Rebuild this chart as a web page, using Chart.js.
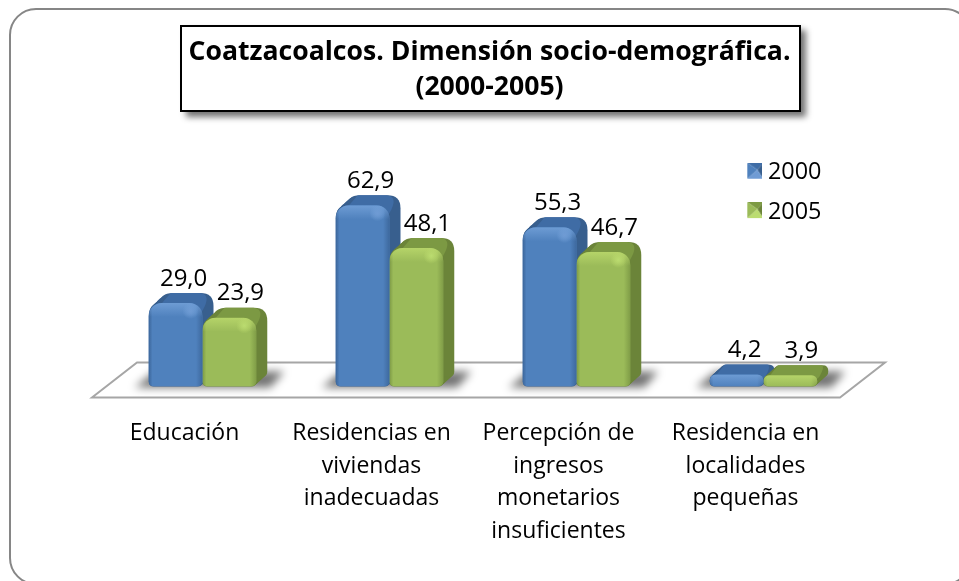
<!DOCTYPE html>
<html><head><meta charset="utf-8">
<style>html,body{margin:0;padding:0;background:#fff}#wrap{width:959px;height:581px}</style>
<script src="https://cdn.jsdelivr.net/npm/chart.js@4"></script>
</head><body><div id="wrap"><canvas id="c" width="959" height="581"></canvas></div>
<script>
const categories = [["Educación"],["Residencias en","viviendas","inadecuadas"],["Percepción de","ingresos","monetarios","insuficientes"],["Residencia en","localidades","pequeñas"]];
const values2000 = [29.0, 62.9, 55.3, 4.2];
const values2005 = [23.9, 48.1, 46.7, 3.9];
const seriesNames = ["2000", "2005"];
const titleLines = ["Coatzacoalcos. Dimensión socio-demográfica.", "(2000-2005)"];

const FONT = '"Open Sans", sans-serif';
const DEPTH_X = 11, DEPTH_Y = 10, R = 13;
const palette = [
  {front:'#4f81bd', light:'#6f9bd4', side:'#385f8e', top:'#3f6da6', rgb:'120,165,220', dark:'40,75,120'},
  {front:'#9bbb59', light:'#bbdc70', side:'#6b8439', top:'#7d9a43', rgb:'190,220,110', dark:'95,120,50'}
];
function rr(ctx,x0,y0,x1,y1,rt,rb){
  ctx.moveTo(x0,y0+rt);ctx.quadraticCurveTo(x0,y0,x0+rt,y0);
  ctx.lineTo(x1-rt,y0);ctx.quadraticCurveTo(x1,y0,x1,y0+rt);
  ctx.lineTo(x1,y1-rb);ctx.quadraticCurveTo(x1,y1,x1-rb,y1);
  ctx.lineTo(x0+rb,y1);ctx.quadraticCurveTo(x0,y1,x0,y1-rb);ctx.closePath();
}
function legendIcon(p){
  const s=16,k=document.createElement('canvas');k.width=28;k.height=20;const g=k.getContext('2d');
  g.translate(13,0);
  const tri=(a,b,c,col)=>{g.fillStyle=col;g.beginPath();g.moveTo(...a);g.lineTo(...b);g.lineTo(...c);g.closePath();g.fill();};
  const m=[10,7];
  tri([0,0],[s,0],m,p.top);tri([s,0],[s,s],m,p.side);tri([0,s],[s,s],m,p.light);tri([0,0],[0,s],m,p.front);
  return k;
}
function drawHulls(chart,d){
  const c=chart.ctx,p=palette[d];
  chart.getDatasetMeta(d).data.forEach(el=>{
    const x0=el.x-el.width/2,x1=el.x+el.width/2,y0=el.y,y1=el.base,h=y1-y0;
    const rt=Math.min(R,h/2),rb=Math.min(5,h/2);
    c.save();
    c.fillStyle=p.side;
    for(let k=0;k<=DEPTH_X;k++){const t=k/DEPTH_X;c.beginPath();rr(c,x0+k,y0-DEPTH_Y*t,x1+k,y1-DEPTH_Y*t,rt,rb);c.fill();}
    c.fillStyle=p.top;
    c.beginPath();c.moveTo(x0+2,y0+rt);c.lineTo(x0+rt+DEPTH_X-2,y0-DEPTH_Y);c.lineTo(x1-rt+DEPTH_X-1,y0-DEPTH_Y);
    c.quadraticCurveTo(x1+DEPTH_X-3,y0-DEPTH_Y+1,x1+2,y0+rt*0.3);c.lineTo(x1-3,y0+rt);c.closePath();
    c.globalAlpha=.95;c.fill();
    c.restore();
  });
}
const decor = {
  id:'decor',
  beforeDraw(chart){
    const c=chart.ctx;
    chart.titleBlock.left=0;chart.titleBlock.right=979;
    const lg=chart.legend;lg.left=724.3;lg.right=900;lg.top=145;lg.bottom=500;
    c.save();
    c.fillStyle='#fff';c.fillRect(0,0,959,581);
    c.strokeStyle='#868686';c.lineWidth=2;
    c.beginPath();c.roundRect(10,9,961,575,26);c.stroke();
    c.fillStyle='rgba(0,0,0,.55)';c.filter='blur(3px)';c.fillRect(186,30,620,87);c.filter='none';
    c.fillStyle='#fff';c.strokeStyle='#000';c.lineWidth=2;
    c.beginPath();c.rect(181,26,619,85);c.fill();c.stroke();
    c.restore();
  },
  beforeDatasetsDraw(chart){
    const c=chart.ctx,a=chart.chartArea,b=chart.scales.y.getPixelForValue(0);
    c.save();
    c.strokeStyle='#a6a6a6';c.lineWidth=2;c.beginPath();
    c.moveTo(a.left-17,b+11);c.lineTo(a.left+28,b-24);c.lineTo(a.right+28,b-24);c.lineTo(a.right-17,b+11);c.closePath();c.stroke();
    c.filter='blur(4px)';c.fillStyle='rgba(0,0,0,.55)';
    const m0=chart.getDatasetMeta(0).data,m1=chart.getDatasetMeta(1).data;
    m0.forEach((el,i)=>{
      const x0=el.x-el.width/2,x1=m1[i].x+m1[i].width/2;
      c.beginPath();c.moveTo(x0-14,b+1);c.lineTo(x0+6,b-15);c.lineTo(x1+28,b-15);c.lineTo(x1+14,b+1);c.closePath();c.fill();
    });
    c.restore();
    drawHulls(chart,0);drawHulls(chart,1);
  },
  afterDatasetDraw(chart,args){
    const c=chart.ctx,p=palette[args.index];
    chart.getDatasetMeta(args.index).data.forEach(el=>{
      const x0=el.x-el.width/2,x1=el.x+el.width/2,y0=el.y,y1=el.base,h=y1-y0;
      const rt=Math.min(R,h/2),rb=Math.min(5,h/2);
      c.save();
      c.beginPath();c.roundRect(x0,y0,el.width,h,[rt,rt,rb,rb]);c.clip();
      let g=c.createLinearGradient(x0,0,x1,0);
      g.addColorStop(0,`rgba(${p.dark},.5)`);g.addColorStop(.07,`rgba(${p.dark},0)`);
      g.addColorStop(.88,`rgba(${p.dark},0)`);g.addColorStop(1,`rgba(${p.dark},.45)`);
      c.fillStyle=g;c.fillRect(x0,y0,el.width,h);
      g=c.createLinearGradient(0,y0,0,y0+Math.min(14,h));
      g.addColorStop(0,`rgba(${p.rgb},.75)`);g.addColorStop(1,`rgba(${p.rgb},0)`);
      c.fillStyle=g;c.fillRect(x0,y0,el.width,Math.min(14,h));
      if(h>=30){
        const hx=x1-R+1,hy=y0+8;
        g=c.createRadialGradient(hx,hy,0,hx,hy,8);
        g.addColorStop(0,p.light);g.addColorStop(1,`rgba(${p.rgb},0)`);
        c.fillStyle=g;c.fillRect(hx-8,hy-8,16,16);
      }
      c.restore();
    });
  },
  afterDatasetsDraw(chart){
    const c=chart.ctx;
    c.save();c.fillStyle='#000';c.font='24px '+FONT;c.textAlign='center';c.textBaseline='middle';
    [8,11].forEach((dx,d)=>{
      chart.getDatasetMeta(d).data.forEach((el,i)=>{
        c.fillText(chart.data.datasets[d].data[i].toFixed(1).replace('.',','),el.x+dx,el.y-24);
      });
    });
    c.restore();
  }
};
const bars={barPercentage:1,categoryPercentage:.575,borderWidth:0,borderSkipped:false,
  borderRadius:{topLeft:R,topRight:R,bottomLeft:5,bottomRight:5}};
new Chart(document.getElementById('c'),{
  type:'bar',
  data:{labels:categories,datasets:[
    {label:seriesNames[0],data:values2000,backgroundColor:palette[0].front,...bars},
    {label:seriesNames[1],data:values2005,backgroundColor:palette[1].front,...bars}
  ]},
  options:{
    responsive:false,animation:false,devicePixelRatio:1,
    layout:{padding:{left:109,right:102,top:0,bottom:0}},
    plugins:{
      tooltip:{enabled:false},
      title:{display:true,text:titleLines,color:'#000',position:'top',
        font:{family:FONT,size:26.6,weight:'bold',lineHeight:1.35},padding:{top:34,bottom:79}},
      legend:{display:true,position:'chartArea',align:'start',
        labels:{usePointStyle:true,color:'#000',padding:16,boxWidth:16,boxHeight:16,
          font:{family:FONT,size:23.4},
          generateLabels(chart){
            return chart.data.datasets.map((d,i)=>({text:d.label,datasetIndex:i,fontColor:'#000',pointStyle:legendIcon(palette[i]),hidden:false,lineWidth:0}));
          }}}
    },
    scales:{
      x:{grid:{display:false},border:{display:false},
        ticks:{color:'#000',maxRotation:0,autoSkip:false,labelOffset:-18,padding:23,font:{family:FONT,size:23,lineHeight:1.413}},
        afterFit(s){s.height=581-386.5;}},
      y:{display:false,min:0,max:70}
    }
  },
  plugins:[decor]
});
</script></body></html>
